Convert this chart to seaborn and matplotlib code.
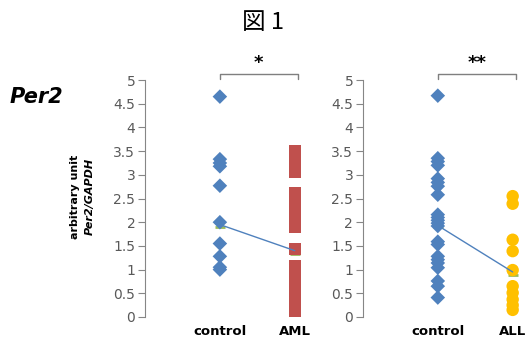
import pandas as pd
import matplotlib.pyplot as plt
import seaborn as sns

# values
aml_control = [4.65, 3.33, 3.25, 3.18, 2.77, 2.0, 1.55, 1.28, 1.05, 1.0]
aml_values = [3.5, 3.35, 3.2, 3.05, 2.62, 2.47, 2.32, 2.17, 2.02, 1.9,
              1.43, 1.08, 0.94, 0.8, 0.66, 0.52, 0.38, 0.24, 0.12]
all_control = [4.67, 3.35, 3.28, 3.2, 2.92, 2.84, 2.76, 2.58, 2.16, 2.1, 2.04,
               1.98, 1.92, 1.59, 1.53, 1.28, 1.21, 1.14, 1.04, 0.76, 0.65, 0.41]
all_values = [2.55, 2.39, 1.63, 1.39, 0.99, 0.65, 0.51, 0.37, 0.25, 0.15]
aml_means = [1.95, 1.4]
all_means = [1.93, 0.95]
aml_medians = [1.9, 1.32]
all_medians = [1.9, 0.88]
groups_aml = ['control', 'AML']
groups_all = ['control', 'ALL']
yticks = [0, 0.5, 1, 1.5, 2, 2.5, 3, 3.5, 4, 4.5, 5]
stars = ['*', '**']

sns.set_style('white')
plt.rcParams['font.family'] = ['DejaVu Sans', 'Noto Sans CJK JP']
plt.rcParams['text.color'] = 'black'

fig = plt.figure(figsize=(5.26, 3.39), dpi=100)
ax1 = fig.add_axes([0.2757, 0.0649, 0.306, 0.699])
ax2 = fig.add_axes([0.690, 0.0649, 0.306, 0.699])


def panel(ax, ctrl, vals, means, medians, names, vcolor, vmarker, vsize, star):
    df_c = pd.DataFrame({'x': 1, 'y': ctrl})
    df_v = pd.DataFrame({'x': 2, 'y': vals})
    sns.scatterplot(data=df_c, x='x', y='y', ax=ax, marker='D', s=55,
                    color='#4F81BD', edgecolor='none', zorder=3)
    sns.scatterplot(data=df_v, x='x', y='y', ax=ax, marker=vmarker, s=vsize,
                    color=vcolor, edgecolor='none', zorder=3)
    # median ticks (green) and line between means
    ax.scatter([1, 2], medians, marker='_', s=60, color='#9BBB59', zorder=2,
               linewidths=2)
    sns.lineplot(x=[1, 2], y=means, ax=ax, color='#4F81BD', lw=1, zorder=4)
    ax.set_xlim(0, 2.15)
    ax.set_ylim(0, 5)
    ax.set_yticks(yticks)
    ax.set_yticklabels([f'{t:g}' for t in yticks], color='#595959', fontsize=10)
    ax.set_xticks([1, 2])
    ax.set_xticklabels(names, fontweight='bold', fontsize=9.5, color='black')
    ax.tick_params(axis='x', length=0, pad=6)
    ax.tick_params(axis='y', direction='out', length=5, color='#868686',
                   left=True, pad=2)
    for s in ['top', 'right', 'bottom']:
        ax.spines[s].set_visible(False)
    ax.spines['left'].set_color('#868686')
    ax.set_xlabel('')
    ax.set_ylabel('')
    # significance bracket
    ax.plot([1, 1, 2.05, 2.05], [5.03, 5.13, 5.13, 5.03], color='#7F7F7F',
            lw=1, clip_on=False)
    ax.text(1.52, 5.16, star, ha='center', va='bottom', fontsize=13,
            fontweight='bold', clip_on=False)


panel(ax1, aml_control, aml_values, aml_means, aml_medians, groups_aml,
      '#C0504D', 's', 70, stars[0])
panel(ax2, all_control, all_values, all_means, all_medians, groups_all,
      '#FFC000', 'o', 80, stars[1])

fig.text(0.5, 0.935, '図 1', ha='center', va='center', fontsize=17,
         family=['Noto Sans CJK JP', 'DejaVu Sans'])
fig.text(0.018, 0.714, 'Per2', ha='left', va='center', fontsize=15,
         fontweight='bold', style='italic')
fig.text(0.142, 0.42, 'arbitrary unit', rotation=90, ha='center',
         va='center', fontsize=8, fontweight='bold')
fig.text(0.170, 0.42, 'Per2/GAPDH', rotation=90, ha='center', va='center',
         fontsize=8, fontweight='bold', style='italic')

fig.savefig('out.png', dpi=100)
